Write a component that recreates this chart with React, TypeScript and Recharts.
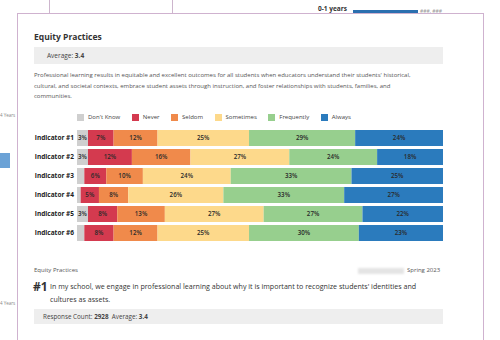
import React from 'react';
import { BarChart, Bar, XAxis, YAxis, LabelList } from 'recharts';

const categories = ['Indicator #1', 'Indicator #2', 'Indicator #3', 'Indicator #4', 'Indicator #5', 'Indicator #6'];
const seriesNames = ["Don't Know", 'Never', 'Seldom', 'Sometimes', 'Frequently', 'Always'];
const seriesColors = ['#cfcfcf', '#d43a4f', '#f08a4b', '#fdd98b', '#97cf8e', '#2b7bbd'];
const dontKnow = [3, 3, 2, 1, 3, 2];
const never = [7, 12, 6, 5, 8, 8];
const seldom = [12, 16, 10, 8, 13, 12];
const sometimes = [25, 27, 24, 26, 27, 25];
const frequently = [29, 24, 33, 33, 27, 30];
const always = [24, 18, 25, 27, 22, 23];
const seriesValues = [dontKnow, never, seldom, sometimes, frequently, always];

const data = categories.map((name, i) => {
  const row: Record<string, string | number> = { name };
  seriesNames.forEach((s, j) => {
    row[s] = seriesValues[j][i];
  });
  return row;
});

const FONT = '"Open Sans", "Noto Sans", sans-serif';

const YTick = (props: any) => {
  const { x, y, payload } = props;
  return (
    <text x={x} y={y} dy="0.35em" textAnchor="end" fontSize={6.5} fontWeight={700} fill="#222" fontFamily={FONT}>
      {payload.value}
    </text>
  );
};

export default function App() {
  return (
    <div style={{ position: 'absolute', left: 0, top: 0, width: 500, height: 340, overflow: 'hidden', background: '#fff', fontFamily: FONT, color: '#333' }}>
      {/* background page fragments */}
      <div style={{ position: 'absolute', left: 49, top: 0, width: 1, height: 13, background: '#cdb5cd' }} />
      <div style={{ position: 'absolute', left: 172, top: 0, width: 1, height: 13, background: '#cdb5cd' }} />
      <div style={{ position: 'absolute', left: 318, top: 5, fontSize: 6.5, fontWeight: 700, color: '#333', lineHeight: '8px' }}>0-1 years</div>
      <div style={{ position: 'absolute', left: 353, top: 10, width: 65, height: 3, background: '#2b6faf' }} />
      <div style={{ position: 'absolute', left: 420, top: 8, fontSize: 5, color: '#999', lineHeight: '6px' }}>###, ###</div>
      <div style={{ position: 'absolute', left: 0, top: 112, fontSize: 4.5, color: '#888', lineHeight: '6px' }}>4 Years</div>
      <div style={{ position: 'absolute', left: 0, top: 153, width: 10, height: 15, background: '#6ba2d6' }} />
      <div style={{ position: 'absolute', left: 0, top: 300, fontSize: 4.5, color: '#888', lineHeight: '6px' }}>4 Years</div>

      {/* card */}
      <div style={{ position: 'absolute', left: 17, top: 13, width: 465, height: 340, border: '1px solid #cfb2cf', background: '#fff' }} />

      <div style={{ position: 'absolute', left: 34, top: 31, fontSize: 8.5, fontWeight: 700, color: '#333', lineHeight: '12px' }}>Equity Practices</div>
      <div style={{ position: 'absolute', left: 34, top: 47, width: 409, height: 17, background: '#eeeeee' }} />
      <div style={{ position: 'absolute', left: 47, top: 51, fontSize: 6.5, color: '#444', lineHeight: '9px' }}>
        Average: <b>3.4</b>
      </div>
      <div style={{ position: 'absolute', left: 34, top: 70, width: 420, fontSize: 6, color: '#555', lineHeight: '10.5px', whiteSpace: 'nowrap' }}>
        Professional learning results in equitable and excellent outcomes for all students when educators understand their students' historical,
        <br />
        cultural, and societal contexts, embrace student assets through instruction, and foster relationships with students, families, and
        <br />
        communities.
      </div>

      {/* legend */}
      <div style={{ position: 'absolute', left: 77, top: 113, display: 'flex', gap: 11.5, fontSize: 6, color: '#444', lineHeight: '8px' }}>
        {seriesNames.map((s, i) => (
          <div key={s} style={{ display: 'flex', alignItems: 'center', gap: 4 }}>
            <div style={{ width: 7, height: 7, background: seriesColors[i] }} />
            <span>{s}</span>
          </div>
        ))}
      </div>

      <div style={{ position: 'absolute', left: 0, top: 128 }}>
        <BarChart
          layout="vertical"
          width={500}
          height={114}
          data={data}
          margin={{ top: 0, right: 57, bottom: 0, left: 0 }}
          barSize={16}
        >
          <XAxis type="number" hide domain={[0, 100]} />
          <YAxis
            type="category"
            dataKey="name"
            width={77}
            tickLine={false}
            axisLine={false}
            tickSize={0}
            tickMargin={3}
            interval={0}
            tick={<YTick />}
          />
          {seriesNames.map((s, i) => (
            <Bar key={s} dataKey={s} stackId="a" fill={seriesColors[i]} isAnimationActive={false}>
              <LabelList
                dataKey={s}
                position="center"
                formatter={(v: any) => (Number(v) >= 3 ? `${v}%` : '')}
                style={{ fontSize: 6.2, fontWeight: 600, fill: '#2a2a2a', fontFamily: FONT }}
              />
            </Bar>
          ))}
        </BarChart>
      </div>

      {/* bottom section */}
      <div style={{ position: 'absolute', left: 34, top: 266, fontSize: 6, color: '#555', lineHeight: '8px' }}>Equity Practices</div>
      <div style={{ position: 'absolute', left: 358, top: 268, width: 46, height: 6, background: '#e4e4e4', filter: 'blur(1px)' }} />
      <div style={{ position: 'absolute', left: 407, top: 266, fontSize: 6, color: '#555', lineHeight: '8px' }}>Spring 2023</div>
      <div style={{ position: 'absolute', left: 33, top: 279, fontSize: 12, fontWeight: 700, color: '#333', lineHeight: '15px' }}>#1</div>
      <div style={{ position: 'absolute', left: 50, top: 280, fontSize: 7.1, color: '#333', lineHeight: '12.5px', whiteSpace: 'nowrap' }}>
        In my school, we engage in professional learning about why it is important to recognize students' identities and
        <br />
        cultures as assets.
      </div>
      <div style={{ position: 'absolute', left: 34, top: 309, width: 409, height: 15, background: '#eeeeee' }} />
      <div style={{ position: 'absolute', left: 43, top: 312, fontSize: 6.3, color: '#444', lineHeight: '9px' }}>
        Response Count: <b>2928</b>&nbsp;&nbsp;Average: <b>3.4</b>
      </div>
    </div>
  );
}
